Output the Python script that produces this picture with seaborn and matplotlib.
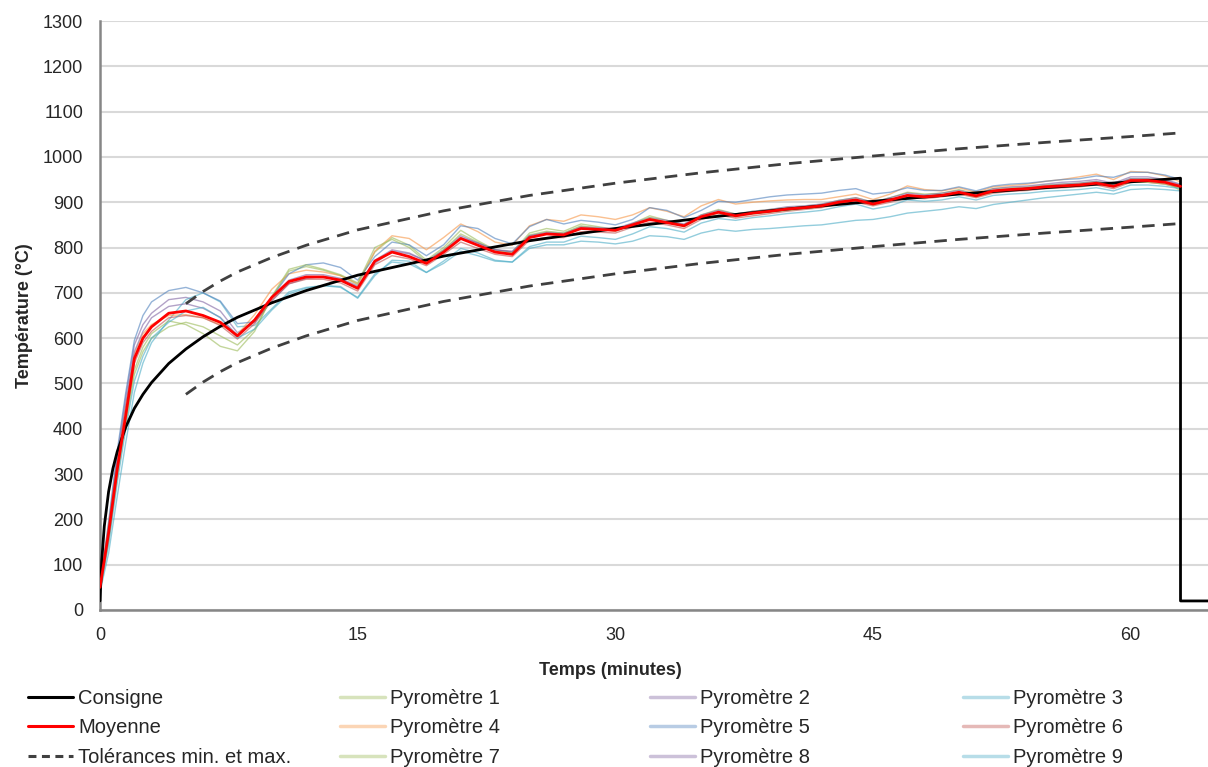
import matplotlib
matplotlib.use("Agg")
import matplotlib.pyplot as plt
import pandas as pd
import seaborn as sns
from matplotlib.lines import Line2D

# ---------------- data ----------------
time_min = [0, 0.5, 1, 1.5, 2, 2.5, 3,
            4, 5, 6, 7, 8, 9, 10, 11, 12, 13,
            14, 15, 16, 17, 18, 19, 20, 21, 22, 23,
            24, 25, 26, 27, 28, 29, 30, 31, 32, 33,
            34, 35, 36, 37, 38, 39, 40, 41, 42, 43,
            44, 45, 46, 47, 48, 49, 50, 51, 52, 53,
            54, 55, 56, 57, 58, 59, 60, 61, 62, 62.9]

moyenne = [50, 170, 310, 430, 555, 600, 625,
           655, 660, 650, 635, 605, 640, 690, 725, 735, 735,
           728, 710, 770, 790, 780, 765, 790, 820, 805, 790,
           785, 822, 830, 828, 842, 840, 838, 850, 862, 855,
           848, 868, 878, 870, 876, 880, 885, 888, 892, 900,
           905, 896, 905, 915, 912, 915, 922, 914, 925, 928,
           930, 934, 936, 938, 942, 935, 948, 948, 944, 935]

pyro_1 = [40, 150, 290, 410, 520, 570, 600,
          625, 635, 625, 605, 585, 620, 690, 748, 758, 750,
          738, 718, 790, 822, 805, 772, 800, 838, 815, 795,
          790, 832, 842, 836, 852, 846, 840, 853, 870, 860,
          850, 872, 884, 874, 880, 884, 888, 891, 895, 904,
          910, 900, 910, 922, 918, 920, 928, 918, 930, 932,
          934, 938, 940, 942, 946, 938, 952, 952, 948, 925]

pyro_2 = [50, 185, 340, 470, 585, 630, 655,
          685, 690, 680, 660, 612, 635, 682, 720, 732, 736,
          730, 712, 765, 792, 786, 770, 795, 826, 810, 795,
          790, 826, 834, 832, 846, 844, 842, 854, 866, 860,
          852, 872, 882, 874, 880, 884, 890, 892, 896, 904,
          910, 900, 910, 920, 916, 920, 926, 918, 930, 934,
          936, 940, 944, 946, 950, 942, 956, 956, 950, 940]

pyro_3 = [40, 125, 250, 370, 480, 545, 590,
          640, 685, 700, 680, 625, 628, 665, 702, 712, 716,
          712, 690, 742, 768, 764, 745, 765, 792, 782, 770,
          768, 798, 806, 806, 814, 812, 808, 814, 826, 824,
          818, 832, 840, 836, 840, 842, 845, 848, 850, 855,
          860, 862, 868, 876, 880, 884, 890, 886, 895, 900,
          905, 910, 914, 918, 922, 918, 928, 930, 928, 925]

pyro_4 = [55, 190, 330, 450, 565, 610, 630,
          650, 652, 645, 630, 608, 652, 708, 742, 750, 746,
          738, 720, 792, 826, 820, 795, 822, 852, 835, 812,
          805, 848, 862, 858, 872, 868, 862, 872, 888, 880,
          868, 892, 906, 896, 900, 903, 905, 906, 906, 912,
          918, 906, 918, 936, 928, 925, 932, 922, 934, 937,
          940, 946, 950, 956, 962, 950, 968, 966, 958, 945]

pyro_5 = [50, 195, 350, 480, 595, 650, 680,
          705, 712, 700, 682, 632, 636, 690, 742, 762, 766,
          756, 728, 780, 812, 806, 782, 806, 848, 842, 820,
          808, 846, 862, 852, 860, 856, 850, 862, 888, 882,
          866, 882, 902, 900, 906, 912, 916, 918, 920, 926,
          930, 918, 922, 932, 926, 926, 934, 925, 936, 940,
          942, 946, 950, 952, 958, 955, 966, 966, 960, 950]

pyro_6 = [45, 165, 305, 425, 545, 590, 615,
          645, 650, 645, 628, 598, 632, 684, 720, 730, 730,
          722, 704, 762, 782, 775, 760, 785, 812, 798, 785,
          780, 816, 822, 822, 835, 834, 832, 845, 856, 850,
          842, 862, 872, 865, 870, 875, 880, 884, 888, 896,
          900, 892, 900, 910, 908, 912, 918, 910, 920, 924,
          926, 930, 932, 934, 938, 930, 944, 944, 940, 932]

pyro_7 = [45, 155, 300, 420, 530, 580, 610,
          638, 630, 610, 582, 572, 615, 692, 752, 762, 752,
          740, 722, 800, 818, 800, 768, 795, 830, 812, 792,
          788, 828, 836, 832, 848, 842, 836, 850, 866, 856,
          846, 866, 876, 868, 874, 878, 882, 886, 890, 898,
          904, 894, 904, 916, 912, 914, 920, 912, 922, 926,
          928, 932, 934, 936, 940, 934, 944, 944, 940, 930]

pyro_8 = [50, 175, 330, 455, 570, 615, 645,
          670, 676, 666, 646, 606, 640, 690, 728, 740, 740,
          732, 715, 772, 795, 788, 770, 792, 822, 810, 795,
          792, 826, 832, 830, 844, 842, 840, 852, 862, 856,
          850, 868, 878, 870, 876, 880, 886, 890, 894, 902,
          906, 896, 906, 916, 912, 916, 922, 914, 926, 930,
          932, 936, 940, 942, 946, 940, 952, 952, 948, 938]

pyro_9 = [45, 145, 280, 400, 505, 560, 600,
          635, 660, 668, 645, 600, 620, 662, 698, 710, 716,
          714, 688, 738, 772, 770, 745, 770, 798, 788, 772,
          768, 802, 812, 812, 825, 822, 818, 830, 846, 842,
          834, 854, 864, 860, 866, 870, 875, 878, 882, 890,
          896, 885, 892, 905, 902, 905, 912, 905, 915, 918,
          920, 924, 926, 928, 932, 925, 938, 938, 935, 930]

consigne_t = [0, 0.1, 0.25, 0.5, 0.75, 1, 1.5, 2, 2.5, 3, 4, 5, 6, 7, 8, 10,
              12, 15, 20, 25, 30, 35, 40, 45, 50, 55, 60, 62.9, 62.9, 64.5]
consigne_T = [20, 108, 185, 261, 312, 349, 404, 445, 476, 502, 544, 576, 603,
              626, 646, 678, 705, 739, 781, 815, 842, 865, 885, 902, 918, 932,
              945, 953, 20, 20]

tol_t = [5, 6, 7, 8, 10, 12, 15, 20, 25, 30, 35, 40, 45, 50, 55, 60, 62.9]
tol_max = [676, 703, 726, 746, 778, 805, 839, 881, 915, 942, 965, 985, 1002,
           1018, 1032, 1045, 1053]
tol_min = [476, 503, 526, 546, 578, 605, 639, 681, 715, 742, 765, 785, 802,
           818, 832, 845, 853]

pyro_names = ["Pyromètre 1", "Pyromètre 2", "Pyromètre 3", "Pyromètre 4",
              "Pyromètre 5", "Pyromètre 6", "Pyromètre 7", "Pyromètre 8",
              "Pyromètre 9"]
pyro_series = [pyro_1, pyro_2, pyro_3, pyro_4, pyro_5, pyro_6, pyro_7,
               pyro_8, pyro_9]
pyro_colors = ["#9BBB59", "#8064A2", "#4BACC6", "#F79646", "#4F81BD",
               "#C0504D", "#9BBB59", "#8064A2", "#4BACC6"]

xticks = [0, 15, 30, 45, 60]
yticks = list(range(0, 1301, 100))

# ---------------- figure ----------------
sns.set_theme(style="white")
plt.rcParams["font.family"] = ["Liberation Sans", "DejaVu Sans"]

W, H = 1208, 767
fig = plt.figure(figsize=(W / 100, H / 100), dpi=100)
ax = fig.add_axes([100 / W, 1 - 610 / H, 1108 / W, 589 / H])

rows = []
for name, vals in zip(pyro_names, pyro_series):
    for t, v in zip(time_min, vals):
        rows.append({"t": t, "T": v, "capteur": name})
df_pyro = pd.DataFrame(rows)

sns.lineplot(data=df_pyro, x="t", y="T", hue="capteur",
             palette=dict(zip(pyro_names, pyro_colors)), estimator=None,
             sort=False, linewidth=1.0, alpha=0.6, legend=False, ax=ax,
             zorder=2)
sns.lineplot(x=consigne_t, y=consigne_T, estimator=None, sort=False,
             color="black", linewidth=2.0, ax=ax, zorder=3)
sns.lineplot(x=time_min, y=moyenne, estimator=None, sort=False,
             color="#FF0000", linewidth=2.0, ax=ax, zorder=4)
for tol in (tol_max, tol_min):
    sns.lineplot(x=tol_t, y=tol, estimator=None, sort=False,
                 color="#404040", linewidth=2.0, linestyle=(0, (4.5, 3)),
                 ax=ax, zorder=3)

ax.set_xlim(0, 64.5)
ax.set_ylim(0, 1300)
ax.set_xticks(xticks)
ax.set_yticks(yticks)
ax.grid(axis="y", color="#d9d9d9", linewidth=1.5)
ax.grid(axis="x", visible=False)
ax.set_axisbelow(True)
for s in ("top", "right"):
    ax.spines[s].set_visible(False)
for s in ("left", "bottom"):
    ax.spines[s].set_color("#868686")
    ax.spines[s].set_linewidth(1.8)
ax.tick_params(axis="both", direction="in", length=5, width=1,
               color="#868686", labelsize=13, labelcolor="#262626")
ax.tick_params(axis="x", pad=12)
ax.tick_params(axis="y", pad=12)

ax.set_xlabel("Temps (minutes)", fontsize=13, fontweight="bold",
              color="#262626")
ax.xaxis.set_label_coords((610 - 100) / 1108, -(662 - 610) / 589)
ax.set_ylabel("Température (°C)", fontsize=13, fontweight="bold",
              color="#262626")
ax.yaxis.set_label_coords(-(100 - 33) / 1108, 0.5)

# ---------------- legend: 4 columns ----------------
h_cons = Line2D([], [], color="black", linewidth=2.2)
h_moy = Line2D([], [], color="#FF0000", linewidth=2.2)
h_tol = Line2D([], [], color="#404040", linewidth=2.2, linestyle=(0, (2.6, 1.8)))
h_p = [Line2D([], [], color=c, linewidth=2.5, alpha=0.4) for c in pyro_colors]

columns = [
    ([h_cons, h_moy, h_tol], ["Consigne", "Moyenne", "Tolérances min. et max."], 28),
    ([h_p[0], h_p[3], h_p[6]], [pyro_names[0], pyro_names[3], pyro_names[6]], 340),
    ([h_p[1], h_p[4], h_p[7]], [pyro_names[1], pyro_names[4], pyro_names[7]], 650),
    ([h_p[2], h_p[5], h_p[8]], [pyro_names[2], pyro_names[5], pyro_names[8]], 963),
]
for handles, labels, x0 in columns:
    fig.legend(handles, labels, loc="upper left",
               bbox_to_anchor=(x0 / W, 1 - 689 / H), frameon=False,
               fontsize=14.5, handlelength=2.25, handletextpad=0.25,
               labelspacing=0.52, borderpad=0, borderaxespad=0,
               labelcolor="#262626")

fig.savefig("out.png", dpi=100)
